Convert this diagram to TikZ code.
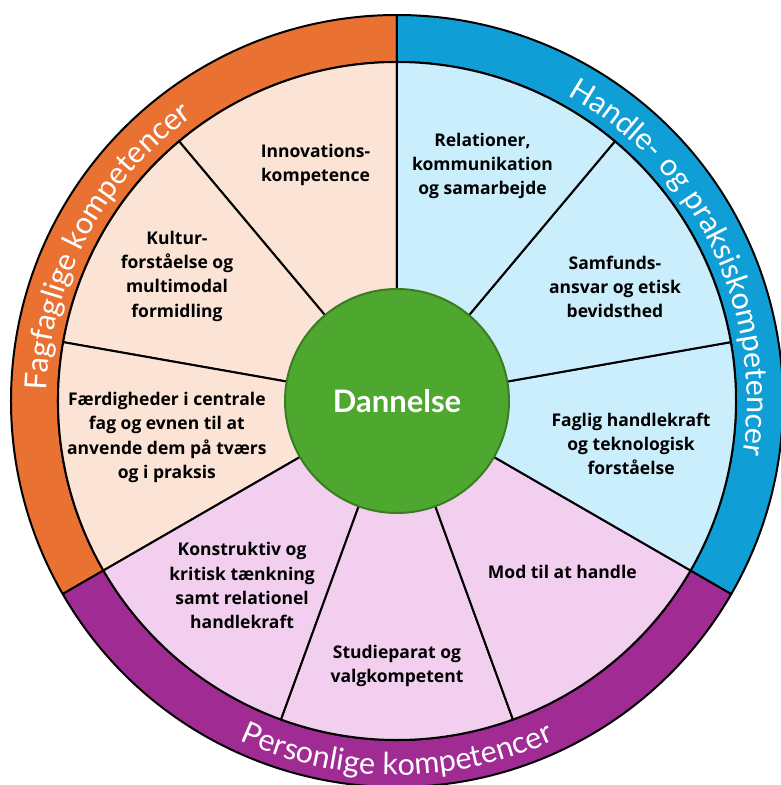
\documentclass[tikz,border=0pt]{standalone}
\usepackage{fontspec}
\setmainfont{Lato}
\newfontfamily\lblfont{Open Sans}
\usetikzlibrary{decorations.text}

\definecolor{ringorange}{HTML}{E97132}
\definecolor{ringblue}{HTML}{0F9ED5}
\definecolor{ringpurple}{HTML}{A02B93}
\definecolor{peach}{HTML}{FBE3D6}
\definecolor{sky}{HTML}{CAEEFB}
\definecolor{pink}{HTML}{F2CEEF}
\definecolor{core}{HTML}{4EA72E}
\definecolor{coreline}{HTML}{3B7D23}

\def\Rout{386pt}
\def\Rin{339pt}
\def\Rcore{112pt}

\begin{document}
\begin{tikzpicture}[
  x=1pt, y=1pt,
  wheel/.style={draw=black, line width=2pt, line join=round},
  lbl/.style={
    font=\lblfont\bfseries\fontsize{17.5}{24.3}\selectfont,
    align=center, inner sep=0pt
  },
  ringtext/.style={
    decorate, decoration={text along path, text align=center,
      text color=white, text={|\fontsize{30.5}{30.5}\selectfont|#1}}
  }
]
  \useasboundingbox (-397,-384) rectangle (384,401);

  % Outer ring
  \foreach \a/\c [evaluate=\a as \b using \a+120] in {90/ringorange, 210/ringpurple, 330/ringblue}
    \filldraw[wheel, fill=\c] (\a:\Rin) -- (\a:\Rout)
      arc[start angle=\a, end angle=\b, radius=\Rout] -- (\b:\Rin)
      arc[start angle=\b, end angle=\a, radius=\Rin] -- cycle;

  % Sectors
  \foreach \a/\c in {90/peach, 130/peach, 170/peach, 210/pink, 250/pink,
                     290/pink, 330/sky, 370/sky, 410/sky}
    \filldraw[wheel, fill=\c] (0,0) -- (\a:\Rin)
      arc[start angle=\a, delta angle=40, radius=\Rin] -- cycle;

  % Centre
  \node[circle, minimum size=2*\Rcore, fill=core, draw=coreline, line width=2pt,
        text=white, font=\bfseries\fontsize{31}{31}\selectfont] (dannelse) at (0,0) {Dannelse};

  % Sector labels
  \node[lbl] (innov) at (109:250pt) {Innovations-\\kompetence};
  \node[lbl] (kultur) at (150.4:253pt) {Kultur-\\forståelse og\\multimodal\\formidling};
  \node[lbl] (faerd) at (189:233pt) {Færdigheder i centrale\\fag og evnen til at\\anvende dem på tværs\\og i praksis};
  \node[lbl] (konstr) at (230:241pt) {Konstruktiv og\\kritisk tænkning\\samt relationel\\handlekraft};
  \node[lbl] (studie) at (270:265pt) {Studieparat og\\valgkompetent};
  \node[lbl] (mod) at (314:238pt) {Mod til at handle};
  \node[lbl] (faglig) at (349.6:238pt) {Faglig handlekraft\\og teknologisk\\forståelse};
  \node[lbl] (samf) at (27.6:246pt) {Samfunds-\\ansvar og etisk\\bevidsthed};
  \node[lbl] (relat) at (70:250pt) {Relationer,\\kommunikation\\og samarbejde};

  % Ring texts
  \path[ringtext={Fagfaglige kompetencer}]
    (197:350pt) arc[start angle=197, end angle=107, radius=350pt];
  \path[ringtext={Handle- og praksiskompetencer}]
    (80:350pt) arc[start angle=80, end angle=-28, radius=350pt];
  \path[ringtext={Personlige kompetencer}]
    (225:374pt) arc[start angle=225, end angle=315, radius=374pt];
\end{tikzpicture}
\end{document}
